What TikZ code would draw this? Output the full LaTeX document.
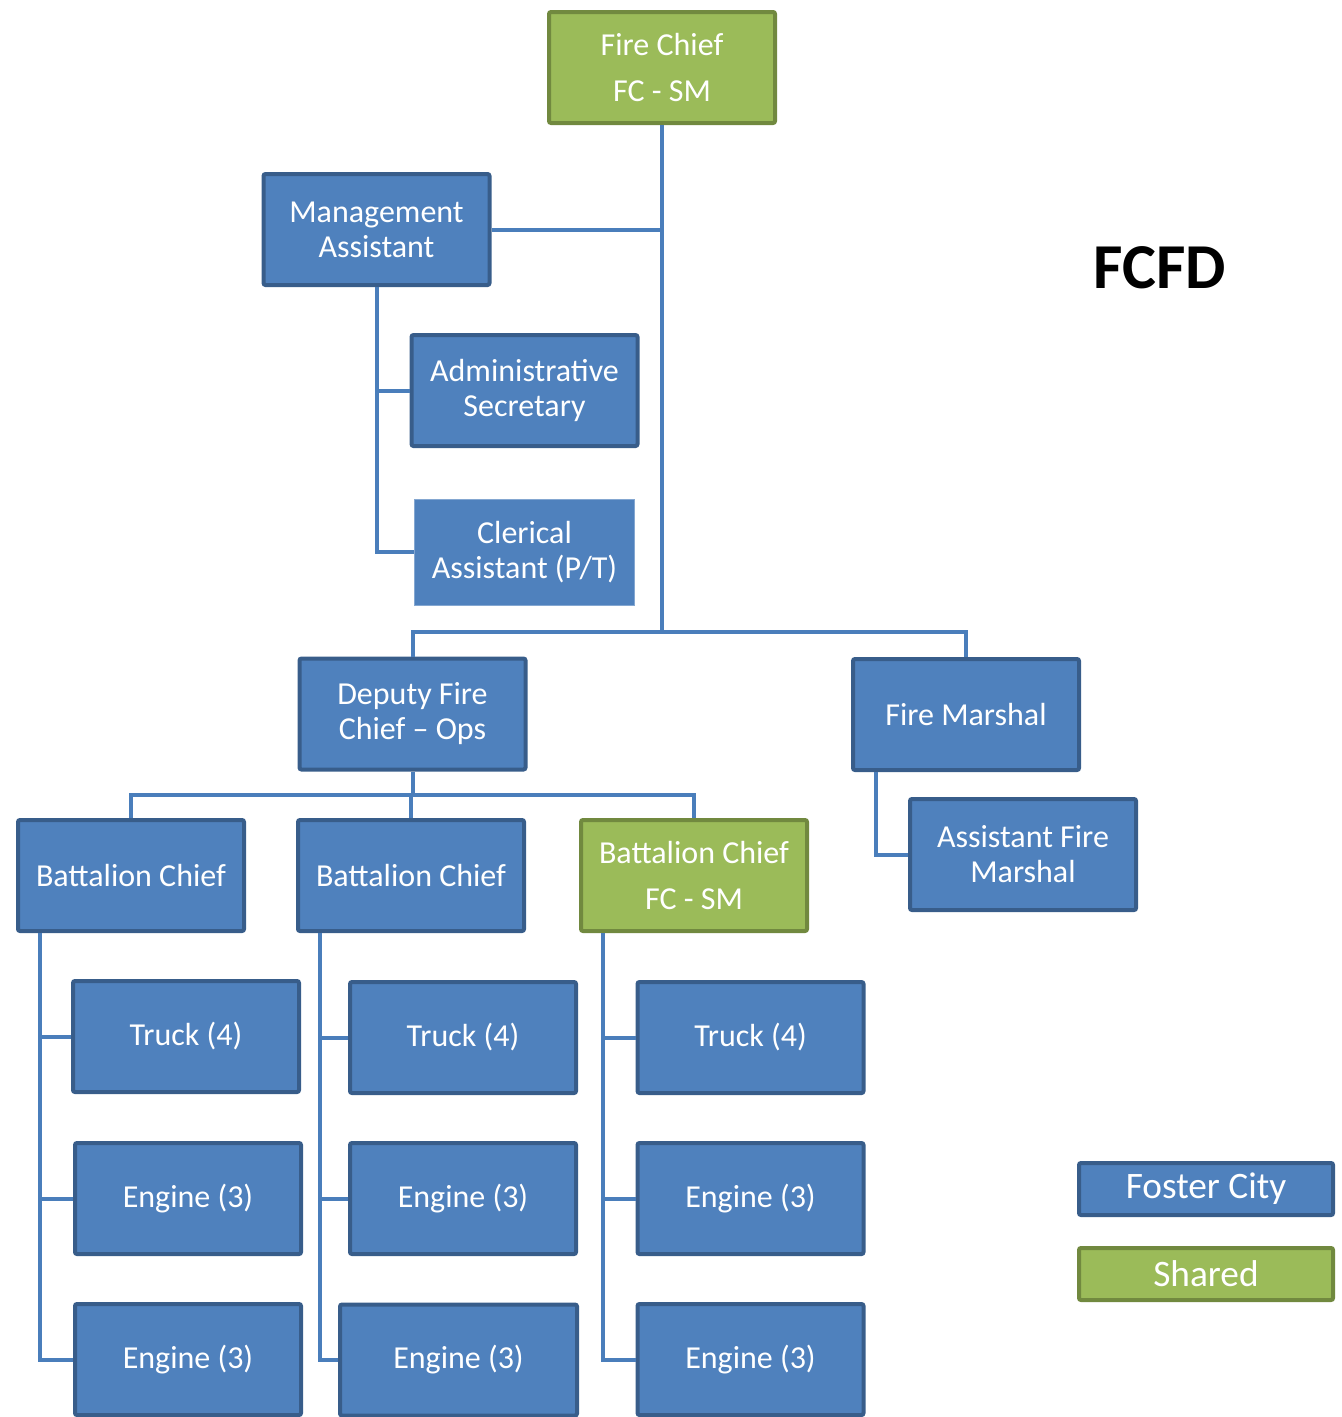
\documentclass[tikz,border=0pt]{standalone}
\usepackage{fontspec}
\setmainfont{Carlito}
\usetikzlibrary{calc}
\definecolor{blu}{HTML}{4F81BD}
\definecolor{bdr}{HTML}{385D8A}
\definecolor{grn}{HTML}{9BBB59}
\definecolor{gbdr}{HTML}{71893F}
\definecolor{link}{HTML}{4A7EBB}
\begin{document}
\begin{tikzpicture}[x=0.75pt,y=-0.75pt,
  unitbox/.style={rectangle, draw=bdr, fill=blu, line width=3pt, rounded corners=1.5pt,
    minimum width=169.5pt, minimum height=83.25pt, inner sep=0pt, align=center,
    text=white, font=\fontsize{24}{26.3}\selectfont},
  sharedbox/.style={unitbox, draw=gbdr, fill=grn},
  plainbox/.style={unitbox, draw=blu!70!white, line width=0.6pt, rounded corners=0pt,
    minimum width=165.5pt, minimum height=79.5pt},
  keybox/.style={unitbox, minimum width=190.5pt, minimum height=39pt,
    font=\fontsize{28}{32}\selectfont},
  conn/.style={draw=link, line width=3pt}]
\useasboundingbox (0,0) rectangle (1342,1417);

% junction points of the connector bars
\coordinate (j1) at (662,632);
\coordinate (j2) at (412.5,795);

% boxes
\node[sharedbox] (FC) at (662,67.5) {Fire Chief\\[8pt]FC - SM};
\node[unitbox] (MA) at (376.5,229.5) {Management\\Assistant};
\node[unitbox] (AS) at (524.5,390.5) {Administrative\\Secretary};
\node[plainbox] (CA) at (524.5,552) {Clerical\\Assistant (P/T)};
\node[unitbox] (DFC) at (412.5,714) {Deputy Fire\\Chief -- Ops};
\node[unitbox] (FM) at (966,714.5) {Fire Marshal};
\node[unitbox] (AFM) at (1023,854.5) {Assistant Fire\\Marshal};
\node[unitbox] (BC1) at (131,875.5) {Battalion Chief};
\node[unitbox] (BC2) at (411,875.5) {Battalion Chief};
\node[sharedbox] (BC3) at (694,875.5) {Battalion Chief\\[8pt]FC - SM};

\node[unitbox] (T1) at (186,1036.5) {Truck (4)};
\node[unitbox] (E1a) at (188,1198.5) {Engine (3)};
\node[unitbox] (E1b) at (188,1359.5) {Engine (3)};
\node[unitbox] (T2) at (463,1037.5) {Truck (4)};
\node[unitbox] (E2a) at (463,1198.5) {Engine (3)};
\node[unitbox, minimum width=177.75pt] (E2b) at (458.5,1360) {Engine (3)};
\node[unitbox] (T3) at (750.5,1037.5) {Truck (4)};
\node[unitbox] (E3a) at (750.5,1198.5) {Engine (3)};
\node[unitbox] (E3b) at (750.5,1359.5) {Engine (3)};

\node[keybox] (LF) at (1206,1189) {Foster City};
\node[keybox, draw=gbdr, fill=grn] (LS) at (1206,1274) {Shared};

\node[font=\fontsize{48}{56}\selectfont\bfseries, text=black] (title) at (1160,268) {FCFD};

% connectors
\draw[conn] (FC.south) -- (j1);
\draw[conn] (MA.east) -- (MA.east -| j1);
\draw[conn] (MA.south) |- (AS.west);
\draw[conn] (MA.south) |- (CA.west);
\draw[conn] (DFC.north) |- (j1) -| (FM.north);
\draw[conn] (DFC.south) -- (j2);
\draw[conn] (BC1.north) |- (j2) -| (BC3.north);
\draw[conn] (BC2.north) -- (BC2.north |- j2);

\coordinate (vm) at ($(FM.south west)+(25,0)$);
\draw[conn] (vm) |- (AFM.west);

\coordinate (v1) at ($(BC1.south west)+(24,0)$);
\coordinate (v2) at ($(BC2.south west)+(24,0)$);
\coordinate (v3) at ($(BC3.south west)+(24,0)$);
\foreach \v/\a/\b/\c in {v1/T1/E1a/E1b, v2/T2/E2a/E2b, v3/T3/E3a/E3b}{
  \draw[conn] (\v) |- (\a.west);
  \draw[conn] (\v) |- (\b.west);
  \draw[conn] (\v) |- (\c.west);
}
\end{tikzpicture}
\end{document}
